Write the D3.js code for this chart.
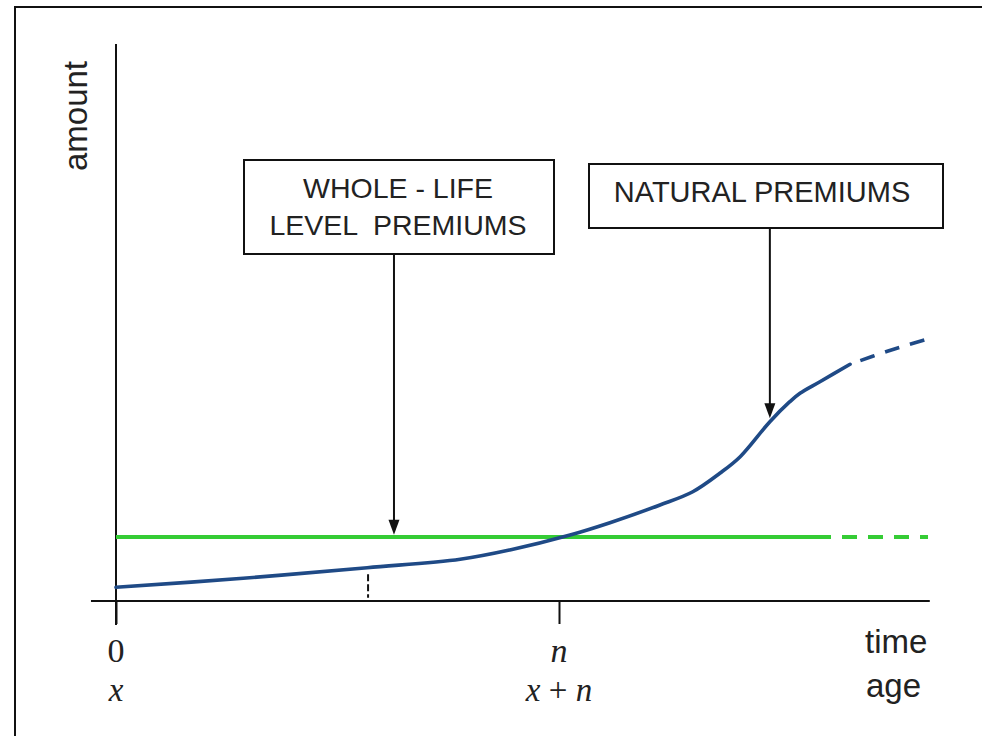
<!DOCTYPE html>
<html><head><meta charset="utf-8">
<script src="https://cdn.jsdelivr.net/npm/d3@7"></script>
<style>
html,body{margin:0;padding:0;background:#fff;}
svg{display:block;}
.sans{font-family:"Liberation Sans",Arial,sans-serif;fill:#222;}
.serif{font-family:"Liberation Serif","Times New Roman",serif;fill:#222;}
</style></head>
<body>
<svg id="chart" width="982" height="736"></svg>
<script>
// ---- data ----
const nValue = 10;                       // position of n on the time axis
const tickValues = [0, nValue];
const tickLabelsTime = ["0", "n"];
const tickLabelsAge = ["x", "x + n"];
const levelPremium = 11.5;               // whole-life level premium
const levelSolidEnd = 16.14;
const timeEnd = 18.33;
const naturalSolid = [
  [0, 2.46], [2.87, 4.08], [5.67, 5.98], [7.77, 7.49], [8.89, 9.16],
  [10.25, 11.85], [11.15, 14.06], [12.28, 17.24], [13.02, 19.62],
  [13.63, 22.93], [14.09, 25.91], [14.76, 32.19], [15.21, 35.78],
  [15.44, 37.29], [15.89, 39.37], [16.57, 42.5]
];
const naturalDashed = [[16.57, 42.5], [17.43, 44.88], [18.33, 47.04]];
const markerT = 5.69;                     // dotted marker on the curve
const boxLabels = [["WHOLE - LIFE", "LEVEL  PREMIUMS"], ["NATURAL PREMIUMS"]];
const arrowTargets = [[6.275, 11.9], [14.76, 32.8]];

// ---- scales ----
const svg = d3.select("#chart");
const x = d3.scaleLinear().domain([0, nValue]).range([116, 559]);
const y = d3.scaleLinear().domain([0, 100]).range([601, 44]);

const ink = "#111";
// outer frame
svg.append("rect").attr("x", 15).attr("y", 7).attr("width", 990).attr("height", 760)
  .attr("fill", "none").attr("stroke", ink).attr("stroke-width", 2);

// axes lines
svg.append("line").attr("x1", x(-0.565)).attr("x2", x(18.37)).attr("y1", y(0)).attr("y2", y(0))
  .attr("stroke", ink).attr("stroke-width", 2);
svg.append("line").attr("x1", x(0)).attr("x2", x(0)).attr("y1", y(100)).attr("y2", y(-4.3))
  .attr("stroke", ink).attr("stroke-width", 2);

const xAxis = d3.axisBottom(x).tickValues(tickValues).tickSize(23).tickFormat("").tickSizeOuter(0);
const gx = svg.append("g").attr("transform", `translate(0,${y(0)})`).call(xAxis);
gx.select(".domain").remove();
gx.selectAll(".tick line").attr("stroke", ink).attr("stroke-width", 2);

// tick labels
svg.selectAll("text.t1").data(tickValues).join("text")
  .attr("class", "serif").attr("x", d => x(d)).attr("y", 662)
  .attr("text-anchor", "middle").attr("font-size", 34)
  .attr("font-style", (d, i) => i === 0 ? "normal" : "italic")
  .text((d, i) => tickLabelsTime[i]);
svg.selectAll("text.t2").data(tickValues).join("text")
  .attr("class", "serif").attr("x", d => x(d)).attr("y", 701)
  .attr("text-anchor", "middle").attr("font-size", 33)
  .attr("font-style", "italic")
  .each(function(d, i) {
    const s = tickLabelsAge[i];
    const t = d3.select(this);
    if (s.includes("+")) {
      const parts = s.split("+");
      t.append("tspan").text(parts[0]);
      t.append("tspan").attr("font-style", "normal").text("+");
      t.append("tspan").text(parts[1]);
    } else t.text(s);
  });

// axis titles
svg.append("text").attr("class", "sans").attr("font-size", 33)
  .attr("transform", `translate(87,116) rotate(-90)`).attr("text-anchor", "middle").text("amount");
svg.append("text").attr("class", "sans").attr("font-size", 33).attr("x", 865).attr("y", 653).text("time");
svg.append("text").attr("class", "sans").attr("font-size", 33).attr("x", 866).attr("y", 697).text("age");

// level premium line
const green = "#35cc35";
svg.append("line").attr("x1", x(0)).attr("x2", x(levelSolidEnd))
  .attr("y1", y(levelPremium)).attr("y2", y(levelPremium))
  .attr("stroke", green).attr("stroke-width", 4);
svg.append("line").attr("x1", x(levelSolidEnd)).attr("x2", x(timeEnd))
  .attr("y1", y(levelPremium)).attr("y2", y(levelPremium))
  .attr("stroke", green).attr("stroke-width", 4)
  .attr("stroke-dasharray", "15,11").attr("stroke-dashoffset", 15);

// natural premiums curve
const blue = "#1f4a86";
const line = d3.line().x(d => x(d[0])).y(d => y(d[1])).curve(d3.curveCatmullRom.alpha(0.5));
svg.append("path").attr("d", line(naturalSolid)).attr("fill", "none")
  .attr("stroke", blue).attr("stroke-width", 3.6).attr("stroke-linecap", "round");
svg.append("path").attr("d", line(naturalDashed)).attr("fill", "none")
  .attr("stroke", blue).attr("stroke-width", 3.6)
  .attr("stroke-dasharray", "15,11").attr("stroke-dashoffset", 15);

// dotted marker
svg.append("line").attr("x1", x(markerT)).attr("x2", x(markerT))
  .attr("y1", y(4.8)).attr("y2", y(0.6))
  .attr("stroke", ink).attr("stroke-width", 2).attr("stroke-dasharray", "7,3");

// annotation boxes
const boxes = [
  {x0: 244, y0: 160, x1: 554, y1: 254, cx: 398, base: [198, 235], fs: 28.5},
  {x0: 589, y0: 164, x1: 943, y1: 228, cx: 762, base: [202], fs: 29}
];
boxes.forEach((b, i) => {
  svg.append("rect").attr("x", b.x0).attr("y", b.y0).attr("width", b.x1 - b.x0).attr("height", b.y1 - b.y0)
    .attr("fill", "#fff").attr("stroke", ink).attr("stroke-width", 2);
  boxLabels[i].forEach((s, j) => {
    svg.append("text").attr("class", "sans").attr("x", b.cx).attr("y", b.base[j])
      .attr("text-anchor", "middle").attr("font-size", b.fs).attr("xml:space", "preserve")
      .style("white-space", "pre").text(s);
  });
  // arrow
  const ax = x(arrowTargets[i][0]), ay = y(arrowTargets[i][1]);
  svg.append("line").attr("x1", ax).attr("x2", ax).attr("y1", b.y1).attr("y2", ay - 12)
    .attr("stroke", ink).attr("stroke-width", 2);
  svg.append("path").attr("d", `M${ax - 5.5},${ay - 15}L${ax + 5.5},${ay - 15}L${ax},${ay}Z`).attr("fill", ink);
});
</script>
</body></html>
